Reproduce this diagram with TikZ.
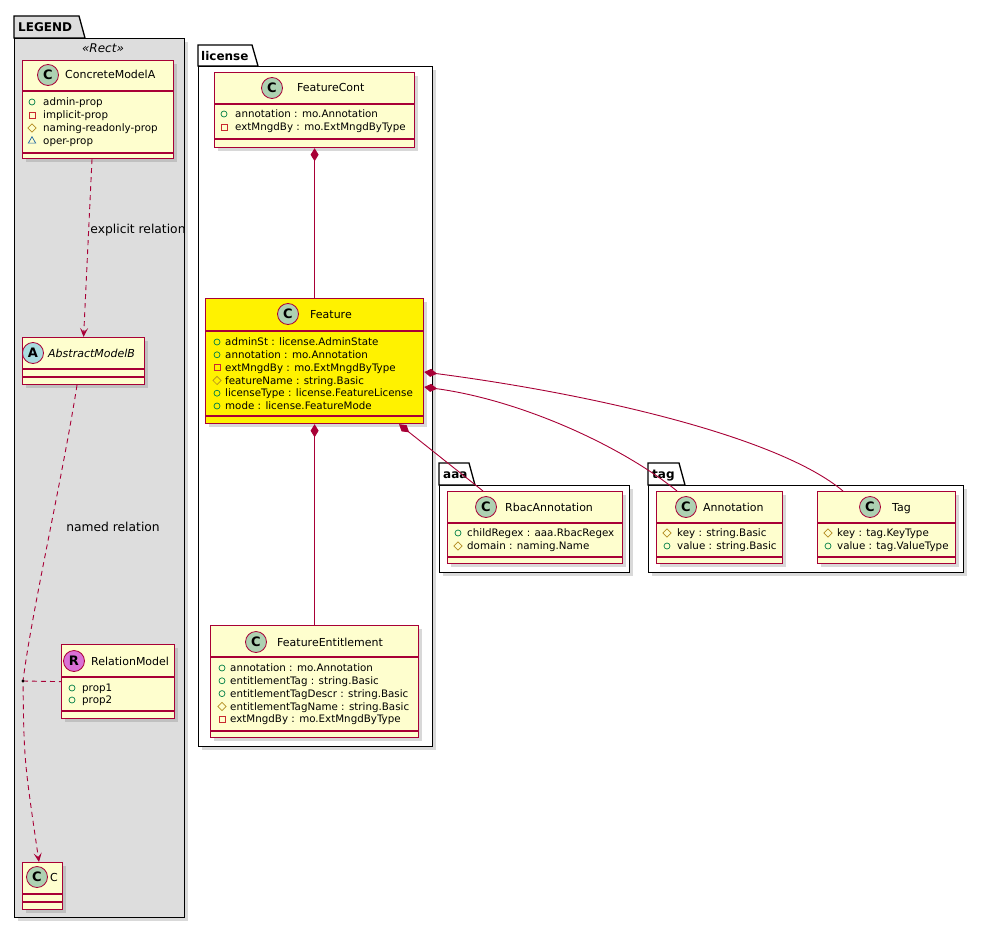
\documentclass[tikz,border=0pt]{standalone}
\usepackage{fontspec}
\setmainfont{DejaVu Sans}
\usetikzlibrary{%
  arrows.meta,%
  shapes.geometric,%
  shadows%
}
\definecolor{umlred}{HTML}{A80036}
\definecolor{umlfill}{HTML}{FEFECE}
\definecolor{spotc}{HTML}{ADD1B2}
\definecolor{spota}{HTML}{A9DCDF}
\definecolor{spotr}{HTML}{DA70D6}
\definecolor{pubcol}{HTML}{038048}
\definecolor{privcol}{HTML}{C82930}
\definecolor{protcol}{HTML}{B38D22}
\definecolor{pkgcol}{HTML}{1963A0}
\definecolor{legendgray}{HTML}{DDDDDD}
\tikzset{
  cls/.style={draw=umlred,line width=1.2pt,fill=umlfill,anchor=north west,inner sep=0pt,
    drop shadow={shadow xshift=3pt,shadow yshift=-3pt,opacity=.3}},
  sepline/.style={draw=umlred,line width=1.2pt},
  spot/.style={circle,draw=umlred,line width=.8pt,minimum size=21pt,inner sep=0pt,
    font=\fontsize{13}{13}\selectfont\bfseries},
  cname/.style={anchor=west,inner sep=0pt,text height=8pt,text depth=0pt,
    font=\fontsize{11}{13}\selectfont},
  mtext/.style={anchor=west,inner sep=0pt,text height=7.5pt,text depth=0pt,
    font=\fontsize{10.3}{12}\selectfont},
  pub/.style={circle,draw=pubcol,line width=.7pt,minimum size=6pt,inner sep=0pt},
  priv/.style={rectangle,draw=privcol,line width=.7pt,minimum size=6pt,inner sep=0pt},
  prot/.style={diamond,draw=protcol,line width=.7pt,minimum size=8.5pt,inner sep=0pt},
  pkg/.style={regular polygon,regular polygon sides=3,draw=pkgcol,line width=.7pt,
    minimum size=8.5pt,inner sep=0pt},
  pkgbody/.style={draw=black,line width=1.3pt,anchor=north west,inner sep=0pt,
    drop shadow={shadow xshift=3pt,shadow yshift=-3pt,opacity=.3}},
  pkgtab/.style={draw=black,line width=1.3pt},
  pkgname/.style={anchor=west,inner sep=0pt,text height=8.5pt,text depth=0pt,
    font=\fontsize{12}{14}\selectfont\bfseries},
  comp/.style={draw=umlred,line width=.9pt,{Diamond[length=13pt,width=8pt]}-},
  dep/.style={draw=umlred,line width=.9pt,dash pattern=on 5pt off 4pt,
    -{Stealth[length=9pt,width=8pt,inset=4pt]}},
  rlabel/.style={inner sep=0pt,font=\fontsize{12.3}{14}\selectfont}
}
\begin{document}
\begin{tikzpicture}[x=1pt,y=-1pt]
  \useasboundingbox (0,0) rectangle (984,928);
  % packages
  \node[pkgbody,fill=legendgray,minimum width=170pt,minimum height=879pt] (lgd) at (14,38) {};
  \draw[pkgtab,fill=legendgray] (lgd.north west) -- (14,16) -- (79,16) -- (85,38) -- cycle;
  \node[pkgname] (lgd-n) at (18,27) {LEGEND};
  \node[font=\fontsize{12}{14}\selectfont\itshape,inner sep=0pt] (lgd-st) at (103,48) {«Rect»};
  \node[pkgbody,fill=white,minimum width=234pt,minimum height=680pt] (lic) at (198,66) {};
  \draw[pkgtab,fill=white] (lic.north west) -- (198,45) -- (252,45) -- (258,66) -- cycle;
  \node[pkgname] (lic-n) at (201,56) {license};
  \node[pkgbody,fill=white,minimum width=190pt,minimum height=87pt] (aaa) at (439,485) {};
  \draw[pkgtab,fill=white] (aaa.north west) -- (439,463) -- (469,463) -- (475,485) -- cycle;
  \node[pkgname] (aaa-n) at (443,474) {aaa};
  \node[pkgbody,fill=white,minimum width=315pt,minimum height=87pt] (tagp) at (648,485) {};
  \draw[pkgtab,fill=white] (tagp.north west) -- (648,463) -- (679,463) -- (685,485) -- cycle;
  \node[pkgname] (tagp-n) at (652,474) {tag};

  % legend classes
  \node[cls,minimum width=151pt,minimum height=98pt] (cma) at (22,60) {};
  \draw[sepline] (cma.west |- 0,91) -- (cma.east |- 0,91);
  \draw[sepline] (cma.west |- 0,153) -- (cma.east |- 0,153);
  \node[spot,fill=spotc] (cma-s) at (48,75) {C};
  \node[cname] (cma-n) at (65,75) {ConcreteModelA};
  \foreach \k/\t [count=\i] in {pub/admin-prop,priv/implicit-prop,
      prot/naming-readonly-prop,pkg/oper-prop}
    {\node[\k] (cma-k\i) at (32,89+13*\i) {};
     \node[mtext] (cma-m\i) at (43,89+13*\i) {\t};}

  \node[cls,minimum width=122pt,minimum height=47pt] (amb) at (22,337) {};
  \draw[sepline] (amb.west |- 0,369) -- (amb.east |- 0,369);
  \draw[sepline] (amb.west |- 0,377) -- (amb.east |- 0,377);
  \node[spot,fill=spota] (amb-s) at (33,353) {A};
  \node[cname,font=\fontsize{11}{13}\selectfont\itshape] (amb-n) at (48,353) {AbstractModelB};

  \node[cls,minimum width=113pt,minimum height=74pt] (rm) at (61,644) {};
  \draw[sepline] (rm.west |- 0,677) -- (rm.east |- 0,677);
  \draw[sepline] (rm.west |- 0,711) -- (rm.east |- 0,711);
  \node[spot,fill=spotr] (rm-s) at (74,661) {R};
  \node[cname] (rm-n) at (91,661) {RelationModel};
  \foreach \k/\t [count=\i] in {pub/prop1,pub/prop2}
    {\node[\k] (rm-k\i) at (72,676+12*\i) {};
     \node[mtext] (rm-m\i) at (82,676+12*\i) {\t};}

  \node[cls,minimum width=40pt,minimum height=47pt] (cc) at (22,862) {};
  \draw[sepline] (cc.west |- 0,894) -- (cc.east |- 0,894);
  \draw[sepline] (cc.west |- 0,902) -- (cc.east |- 0,902);
  \node[spot,fill=spotc] (cc-s) at (37,877) {C};
  \node[cname] (cc-n) at (50,877) {C};

  % license classes
  \node[cls,minimum width=200pt,minimum height=75pt] (fc) at (214,72) {};
  \draw[sepline] (fc.west |- 0,104) -- (fc.east |- 0,104);
  \draw[sepline] (fc.west |- 0,139) -- (fc.east |- 0,139);
  \node[spot,fill=spotc] (fc-s) at (272,88) {C};
  \node[cname] (fc-n) at (297,88) {FeatureCont};
  \foreach \k/\t [count=\i] in {pub/annotation : mo.Annotation,
      priv/extMngdBy : mo.ExtMngdByType}
    {\node[\k] (fc-k\i) at (224,101+13*\i) {};
     \node[mtext] (fc-m\i) at (235,101+13*\i) {\t};}

  \node[cls,fill=yellow,minimum width=218pt,minimum height=125pt] (ft) at (205,298) {};
  \draw[sepline] (ft.west |- 0,331) -- (ft.east |- 0,331);
  \draw[sepline] (ft.west |- 0,416) -- (ft.east |- 0,416);
  \node[spot,fill=spotc] (ft-s) at (288,314) {C};
  \node[cname] (ft-n) at (310,314) {Feature};
  \foreach \k/\t [count=\i] in {pub/adminSt : license.AdminState,
      pub/annotation : mo.Annotation,priv/extMngdBy : mo.ExtMngdByType,
      prot/featureName : string.Basic,pub/licenseType : license.FeatureLicense,
      pub/mode : license.FeatureMode}
    {\node[\k] (ft-k\i) at (217,329.2+12.8*\i) {};
     \node[mtext] (ft-m\i) at (225,329.2+12.8*\i) {\t};}

  \node[cls,minimum width=208pt,minimum height=112pt] (fe) at (210,625) {};
  \draw[sepline] (fe.west |- 0,657) -- (fe.east |- 0,657);
  \draw[sepline] (fe.west |- 0,731) -- (fe.east |- 0,731);
  \node[spot,fill=spotc] (fe-s) at (256,642) {C};
  \node[cname] (fe-n) at (277,642) {FeatureEntitlement};
  \foreach \k/\t [count=\i] in {pub/annotation : mo.Annotation,
      pub/entitlementTag : string.Basic,pub/entitlementTagDescr : string.Basic,
      prot/entitlementTagName : string.Basic,priv/extMngdBy : mo.ExtMngdByType}
    {\node[\k] (fe-k\i) at (222,655.2+12.8*\i) {};
     \node[mtext] (fe-m\i) at (230,655.2+12.8*\i) {\t};}

  % aaa and tag classes
  \node[cls,minimum width=175pt,minimum height=72pt] (ra) at (447,491) {};
  \draw[sepline] (ra.west |- 0,523) -- (ra.east |- 0,523);
  \draw[sepline] (ra.west |- 0,557) -- (ra.east |- 0,557);
  \node[spot,fill=spotc] (ra-s) at (486,507) {C};
  \node[cname] (ra-n) at (505,507) {RbacAnnotation};
  \foreach \k/\t [count=\i] in {pub/childRegex : aaa.RbacRegex,prot/domain : naming.Name}
    {\node[\k] (ra-k\i) at (458,520+13*\i) {};
     \node[mtext] (ra-m\i) at (467,520+13*\i) {\t};}

  \node[cls,minimum width=126pt,minimum height=72pt] (an) at (656,491) {};
  \draw[sepline] (an.west |- 0,523) -- (an.east |- 0,523);
  \draw[sepline] (an.west |- 0,557) -- (an.east |- 0,557);
  \node[spot,fill=spotc] (an-s) at (686,507) {C};
  \node[cname] (an-n) at (703,507) {Annotation};
  \foreach \k/\t [count=\i] in {prot/key : string.Basic,pub/value : string.Basic}
    {\node[\k] (an-k\i) at (667,520+13*\i) {};
     \node[mtext] (an-m\i) at (677,520+13*\i) {\t};}

  \node[cls,minimum width=138pt,minimum height=72pt] (tg) at (817,491) {};
  \draw[sepline] (tg.west |- 0,523) -- (tg.east |- 0,523);
  \draw[sepline] (tg.west |- 0,557) -- (tg.east |- 0,557);
  \node[spot,fill=spotc] (tg-s) at (870,507) {C};
  \node[cname] (tg-n) at (892,507) {Tag};
  \foreach \k/\t [count=\i] in {prot/key : tag.KeyType,pub/value : tag.ValueType}
    {\node[\k] (tg-k\i) at (828,520+13*\i) {};
     \node[mtext] (tg-m\i) at (837,520+13*\i) {\t};}

  % legend relations
  \draw[dep] (92,0 |- cma.south) -- (amb.north);
  \node[rlabel] (expl) at (138,230) {explicit relation};
  \coordinate (rdot) at (23,681);
  \draw[dep] (77,0 |- amb.south) .. controls (62,480) and (32,610) .. (rdot)
    .. controls (24,760) .. (39,0 |- cc.north);
  \draw[dep,-] (rdot) -- (rm.west);
  \fill (rdot) circle (1.6);
  \node[rlabel] (named) at (113,527) {named relation};

  % compositions
  \draw[comp] (fc.south) -- (ft.north);
  \draw[comp] (ft.south) -- (fe.north);
  \draw[comp] (399,0 |- ft.south) -- (483,0 |- ra.north);
  \draw[comp] (ft.east |- 0,372) .. controls (600,395) and (780,438) .. (843,0 |- tg.north);
  \draw[comp] (ft.east |- 0,387) .. controls (520,400) and (620,445) .. (677,0 |- an.north);
\end{tikzpicture}
\end{document}
